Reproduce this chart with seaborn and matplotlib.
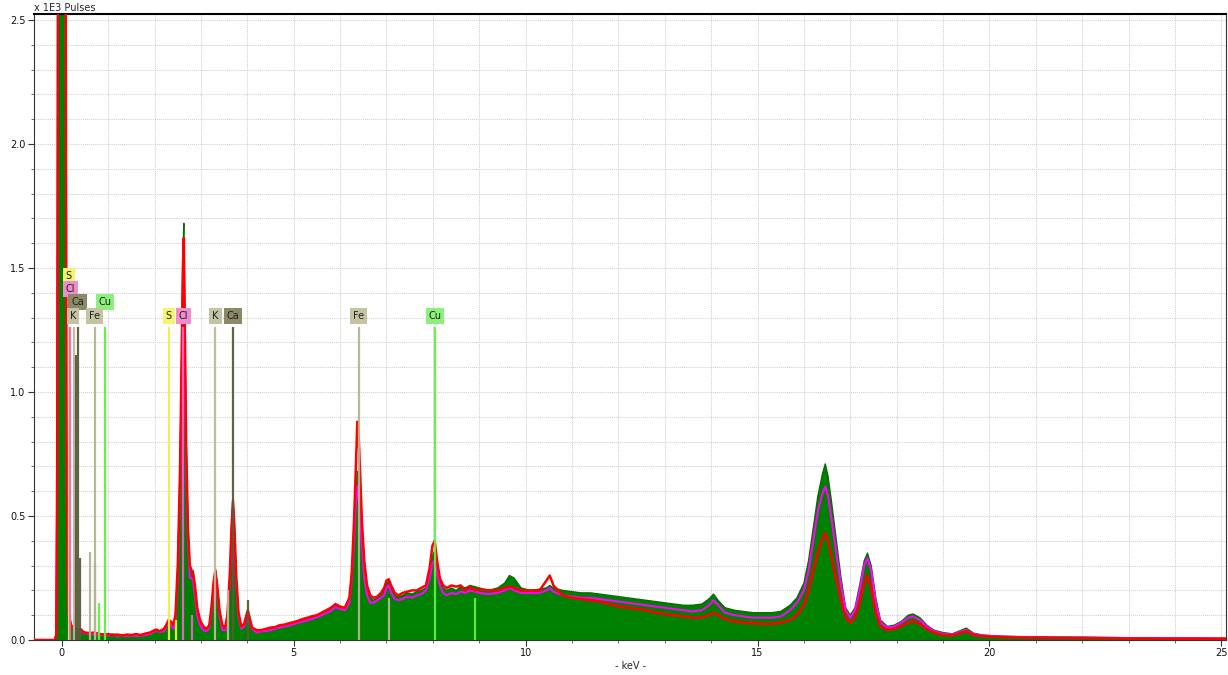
import numpy as np
import pandas as pd
import matplotlib
matplotlib.use("Agg")
import matplotlib.pyplot as plt
from matplotlib.ticker import MultipleLocator, FormatStrFormatter
import seaborn as sns

# ---------------- data ----------------
kev = [-0.60, -0.15, -0.12, -0.10, -0.08, 0.08, 0.10, 0.12, 0.15, 0.20, 0.25, 0.30, 0.35, 0.40, 0.45,
       0.50, 0.60, 0.70, 0.80, 0.90, 1.00, 1.10, 1.20, 1.30, 1.40, 1.50, 1.60, 1.70, 1.80, 1.90,
       2.00, 2.05, 2.10, 2.20, 2.25, 2.30, 2.35, 2.40, 2.45, 2.50, 2.55, 2.58, 2.61, 2.63, 2.65,
       2.68, 2.72, 2.76, 2.80, 2.83, 2.87, 2.92, 2.98, 3.05, 3.12, 3.18, 3.23, 3.27, 3.31, 3.35,
       3.40, 3.46, 3.52, 3.57, 3.62, 3.66, 3.69, 3.72, 3.76, 3.81, 3.87, 3.93, 3.98, 4.01, 4.05,
       4.10, 4.20, 4.30, 4.40, 4.50, 4.60, 4.70, 4.80, 4.90, 5.00, 5.10, 5.20, 5.30, 5.40, 5.50,
       5.60, 5.70, 5.80, 5.90, 6.00, 6.10, 6.20, 6.25, 6.30, 6.34, 6.37, 6.40, 6.43, 6.47, 6.52,
       6.58, 6.65, 6.72, 6.80, 6.88, 6.95, 7.00, 7.05, 7.10, 7.18, 7.25, 7.35, 7.45, 7.55, 7.65,
       7.75, 7.85, 7.93, 7.99, 8.04, 8.09, 8.15, 8.22, 8.30, 8.40, 8.50, 8.60, 8.70, 8.80, 8.90,
       9.00, 9.20, 9.40, 9.55, 9.65, 9.75, 9.90, 10.10, 10.30, 10.45, 10.52, 10.60, 10.80, 11.00, 11.20,
       11.40, 11.60, 11.80, 12.00, 12.20, 12.40, 12.60, 12.80, 13.00, 13.20, 13.40, 13.60, 13.80, 13.95, 14.05,
       14.15, 14.30, 14.50, 14.70, 14.90, 15.10, 15.30, 15.50, 15.70, 15.85, 16.00, 16.10, 16.20, 16.30, 16.40,
       16.46, 16.52, 16.60, 16.70, 16.80, 16.90, 17.00, 17.10, 17.20, 17.30, 17.37, 17.45, 17.55, 17.65, 17.80,
       17.95, 18.10, 18.25, 18.35, 18.50, 18.65, 18.80, 19.00, 19.20, 19.40, 19.50, 19.65, 19.85, 20.20, 20.60,
       21.00, 21.50, 22.00, 22.50, 23.00, 23.50, 24.00, 24.50, 25.10]

green_counts = [0, 0, 0.02, 0.6, 3.0, 3.0, 0.8, 0.3, 0.10, 0.06, 0.05, 0.045, 0.04, 0.045, 0.035,
                0.03, 0.025, 0.03, 0.022, 0.025, 0.02, 0.024, 0.02, 0.022, 0.018, 0.022, 0.02, 0.022, 0.024, 0.028,
                0.038, 0.042, 0.035, 0.04, 0.06, 0.08, 0.07, 0.05, 0.09, 0.3, 0.7, 1.1, 1.55, 1.68, 1.3,
                0.8, 0.45, 0.3, 0.27, 0.28, 0.2, 0.12, 0.07, 0.05, 0.04, 0.06, 0.13, 0.22, 0.29, 0.22,
                0.12, 0.05, 0.045, 0.1, 0.25, 0.45, 0.57, 0.45, 0.25, 0.1, 0.05, 0.06, 0.1, 0.12, 0.09,
                0.05, 0.035, 0.038, 0.04, 0.045, 0.05, 0.055, 0.06, 0.062, 0.07, 0.075, 0.08, 0.085, 0.092, 0.1,
                0.105, 0.115, 0.125, 0.14, 0.13, 0.125, 0.16, 0.25, 0.42, 0.6, 0.68, 0.65, 0.55, 0.42, 0.28,
                0.2, 0.17, 0.16, 0.17, 0.18, 0.2, 0.23, 0.24, 0.21, 0.18, 0.175, 0.18, 0.19, 0.185, 0.195,
                0.2, 0.21, 0.27, 0.34, 0.36, 0.3, 0.24, 0.21, 0.2, 0.21, 0.2, 0.215, 0.21, 0.22, 0.215,
                0.21, 0.2, 0.21, 0.23, 0.26, 0.25, 0.21, 0.2, 0.205, 0.21, 0.22, 0.21, 0.2, 0.195, 0.19,
                0.19, 0.185, 0.18, 0.175, 0.17, 0.165, 0.16, 0.155, 0.15, 0.145, 0.14, 0.14, 0.145, 0.165, 0.185,
                0.16, 0.13, 0.12, 0.115, 0.11, 0.11, 0.11, 0.115, 0.14, 0.17, 0.23, 0.32, 0.45, 0.58, 0.67,
                0.71, 0.66, 0.55, 0.4, 0.25, 0.13, 0.1, 0.13, 0.22, 0.32, 0.35, 0.3, 0.17, 0.08, 0.055,
                0.06, 0.075, 0.1, 0.105, 0.09, 0.06, 0.04, 0.03, 0.025, 0.04, 0.048, 0.028, 0.02, 0.016, 0.014,
                0.013, 0.012, 0.011, 0.01, 0.009, 0.009, 0.008, 0.008, 0.007]

magenta_counts = [0, 0, 0.02, 0.6, 3.0, 3.0, 0.8, 0.3, 0.10, 0.06, 0.05, 0.045, 0.04, 0.04, 0.03,
                  0.028, 0.022, 0.025, 0.02, 0.02, 0.018, 0.02, 0.016, 0.018, 0.015, 0.018, 0.016, 0.018, 0.02, 0.024,
                  0.035, 0.04, 0.032, 0.035, 0.055, 0.07, 0.065, 0.045, 0.08, 0.25, 0.6, 1.0, 1.4, 1.55, 1.2,
                  0.7, 0.4, 0.25, 0.25, 0.24, 0.18, 0.1, 0.06, 0.04, 0.035, 0.05, 0.12, 0.2, 0.27, 0.2,
                  0.1, 0.04, 0.04, 0.09, 0.23, 0.42, 0.53, 0.42, 0.22, 0.09, 0.045, 0.055, 0.09, 0.11, 0.08,
                  0.045, 0.03, 0.035, 0.036, 0.04, 0.046, 0.05, 0.055, 0.058, 0.064, 0.07, 0.074, 0.08, 0.086, 0.092,
                  0.1, 0.108, 0.118, 0.132, 0.125, 0.12, 0.15, 0.24, 0.4, 0.55, 0.62, 0.58, 0.5, 0.38, 0.25,
                  0.18, 0.15, 0.15, 0.16, 0.17, 0.18, 0.21, 0.22, 0.19, 0.165, 0.16, 0.165, 0.175, 0.17, 0.18,
                  0.185, 0.2, 0.25, 0.31, 0.32, 0.27, 0.22, 0.19, 0.18, 0.19, 0.185, 0.195, 0.19, 0.2, 0.195,
                  0.19, 0.185, 0.19, 0.2, 0.21, 0.2, 0.19, 0.19, 0.19, 0.2, 0.21, 0.195, 0.18, 0.175, 0.17,
                  0.17, 0.165, 0.16, 0.155, 0.15, 0.145, 0.14, 0.135, 0.13, 0.125, 0.12, 0.115, 0.12, 0.14, 0.16,
                  0.14, 0.11, 0.1, 0.095, 0.09, 0.09, 0.09, 0.095, 0.12, 0.15, 0.2, 0.28, 0.4, 0.52, 0.59,
                  0.62, 0.58, 0.48, 0.35, 0.22, 0.12, 0.09, 0.12, 0.2, 0.3, 0.33, 0.28, 0.15, 0.07, 0.05,
                  0.055, 0.07, 0.09, 0.095, 0.08, 0.055, 0.035, 0.025, 0.022, 0.035, 0.04, 0.024, 0.018, 0.014, 0.012,
                  0.011, 0.01, 0.01, 0.009, 0.008, 0.008, 0.007, 0.007, 0.006]

red_counts = [0, 0, 0.02, 0.7, 3.0, 3.0, 0.9, 0.3, 0.10, 0.06, 0.05, 0.045, 0.04, 0.045, 0.035,
              0.03, 0.028, 0.03, 0.025, 0.022, 0.024, 0.02, 0.022, 0.018, 0.022, 0.02, 0.024, 0.02, 0.026, 0.03,
              0.04, 0.042, 0.035, 0.045, 0.06, 0.08, 0.075, 0.06, 0.1, 0.3, 0.7, 1.1, 1.5, 1.62, 1.3,
              0.8, 0.45, 0.3, 0.28, 0.27, 0.22, 0.13, 0.08, 0.055, 0.045, 0.06, 0.14, 0.23, 0.28, 0.22,
              0.12, 0.06, 0.05, 0.1, 0.26, 0.46, 0.56, 0.46, 0.26, 0.11, 0.055, 0.065, 0.1, 0.12, 0.09,
              0.05, 0.04, 0.04, 0.045, 0.05, 0.052, 0.06, 0.062, 0.068, 0.072, 0.078, 0.085, 0.09, 0.096, 0.1,
              0.11, 0.12, 0.13, 0.145, 0.135, 0.13, 0.17, 0.27, 0.48, 0.7, 0.88, 0.82, 0.68, 0.48, 0.32,
              0.22, 0.18, 0.17, 0.175, 0.19, 0.21, 0.24, 0.245, 0.22, 0.19, 0.18, 0.19, 0.195, 0.2, 0.2,
              0.21, 0.22, 0.29, 0.38, 0.4, 0.32, 0.25, 0.22, 0.21, 0.22, 0.215, 0.22, 0.2, 0.215, 0.2,
              0.205, 0.2, 0.2, 0.21, 0.215, 0.21, 0.2, 0.2, 0.2, 0.24, 0.26, 0.22, 0.18, 0.17, 0.165,
              0.16, 0.155, 0.145, 0.135, 0.13, 0.125, 0.12, 0.11, 0.105, 0.1, 0.095, 0.09, 0.09, 0.1, 0.11,
              0.1, 0.085, 0.075, 0.07, 0.068, 0.065, 0.065, 0.07, 0.08, 0.1, 0.14, 0.2, 0.28, 0.35, 0.41,
              0.43, 0.4, 0.33, 0.24, 0.16, 0.09, 0.07, 0.09, 0.15, 0.23, 0.26, 0.21, 0.11, 0.055, 0.04,
              0.045, 0.055, 0.07, 0.075, 0.065, 0.045, 0.03, 0.02, 0.018, 0.03, 0.035, 0.02, 0.015, 0.012, 0.01,
              0.009, 0.008, 0.008, 0.007, 0.006, 0.006, 0.005, 0.005, 0.005]

# element marker lines
line_kev = [0.149, 0.182, 0.262, 0.285, 0.302, 0.341, 0.39, 0.615, 0.705, 0.718, 0.811, 0.930,
            2.307, 2.464, 2.622, 2.815, 3.313, 3.590, 3.691, 4.013, 6.403, 7.058, 8.047, 8.905]
line_height = [1.26, 1.26, 1.26, 0.63, 1.15, 1.26, 0.33, 0.355, 1.26, 0.31, 0.15, 1.26,
               1.26, 0.08, 1.26, 0.10, 1.26, 0.20, 1.26, 0.16, 1.26, 0.17, 1.26, 0.17]
line_element = ["S", "Cl", "K", "K", "Ca", "Ca", "Ca", "Fe", "Fe", "Fe", "Cu", "Cu",
                "S", "S", "Cl", "Cl", "K", "K", "Ca", "Ca", "Fe", "Fe", "Cu", "Cu"]

# labels: element, energy, stacking row
label_element = ["S", "Cl", "Ca", "Cu", "K", "Fe", "S", "Cl", "K", "Ca", "Fe", "Cu"]
label_kev = [0.149, 0.182, 0.341, 0.930, 0.240, 0.705, 2.307, 2.622, 3.313, 3.691, 6.403, 8.047]
label_y = [1.468, 1.415, 1.363, 1.363, 1.306, 1.306, 1.306, 1.306, 1.306, 1.306, 1.306, 1.306]

elem_line_color = {"S": "#f0f040", "Cl": "#f060d0", "K": "#bcbc98", "Ca": "#5a5a3c",
                   "Fe": "#b4b490", "Cu": "#60f040"}
elem_box_color = {"S": "#f4f470", "Cl": "#f08ccc", "K": "#c4c4a4", "Ca": "#8a8a68",
                  "Fe": "#c4c4a4", "Cu": "#8cf07a"}

# ---------------- plotting ----------------
sns.set_theme(style="white")
plt.rcParams["font.family"] = ["DejaVu Sans"]

fig = plt.figure(figsize=(12.28, 6.75), dpi=100)
ax = fig.add_axes([34 / 1228, 1 - 640 / 675, (1226 - 34) / 1228, (640 - 14) / 675])

df = pd.DataFrame({"keV": kev, "green": green_counts, "magenta": magenta_counts, "red": red_counts})

ax.fill_between(df["keV"], 0, df["green"], color="#008000", linewidth=0, zorder=2)
sns.lineplot(data=df, x="keV", y="green", color="#0b6b0b", linewidth=1.0, ax=ax,
             estimator=None, sort=False, zorder=3)
sns.lineplot(data=df, x="keV", y="magenta", color="#ff00ff", linewidth=1.5, ax=ax,
             estimator=None, sort=False, zorder=4)
sns.lineplot(data=df, x="keV", y="red", color="#ff0000", linewidth=1.8, ax=ax,
             estimator=None, sort=False, zorder=5)

for e, h, el in zip(line_kev, line_height, line_element):
    ax.vlines(e, 0, h, color=elem_line_color[el], linewidth=1.6, zorder=6, alpha=0.95)

for el, e, yy in zip(label_element, label_kev, label_y):
    ax.text(e, yy, el, ha="center", va="center", fontsize=7, color="#202020", zorder=7,
            bbox=dict(boxstyle="square,pad=0.3", facecolor=elem_box_color[el], edgecolor="none"))

ax.set_xlim(-0.6, 25.1)
ax.set_ylim(0, 2.524)
ax.xaxis.set_major_locator(MultipleLocator(5))
ax.xaxis.set_minor_locator(MultipleLocator(1))
ax.yaxis.set_major_locator(MultipleLocator(0.5))
ax.yaxis.set_minor_locator(MultipleLocator(0.1))
ax.yaxis.set_major_formatter(FormatStrFormatter("%.1f"))
ax.xaxis.set_major_formatter(FormatStrFormatter("%d"))
ax.tick_params(axis="both", which="major", direction="out", length=4, width=0.8,
               labelsize=7, color="#333333", labelcolor="#111111", bottom=True, left=True, pad=2)
ax.tick_params(axis="both", which="minor", direction="out", length=2.5, width=0.6,
               color="#555555", bottom=True, left=True)
ax.grid(True, which="both", color="#cccccc", linestyle=(0, (1, 1)), linewidth=0.7, zorder=0)
ax.set_axisbelow(True)
for s in ["left", "bottom", "right"]:
    ax.spines[s].set_color("#333333")
    ax.spines[s].set_linewidth(0.8)
ax.spines["top"].set_color("#000000")
ax.spines["top"].set_linewidth(1.5)

ax.set_xlabel("")
ax.set_ylabel("")
fig.text(631 / 1228, 1 - 666 / 675, "- keV -", fontsize=7, ha="center", va="center")
fig.text(34 / 1228, 1 - 8 / 675, "x 1E3 Pulses", fontsize=7, ha="left", va="center")

fig.savefig("out.png", dpi=100)
